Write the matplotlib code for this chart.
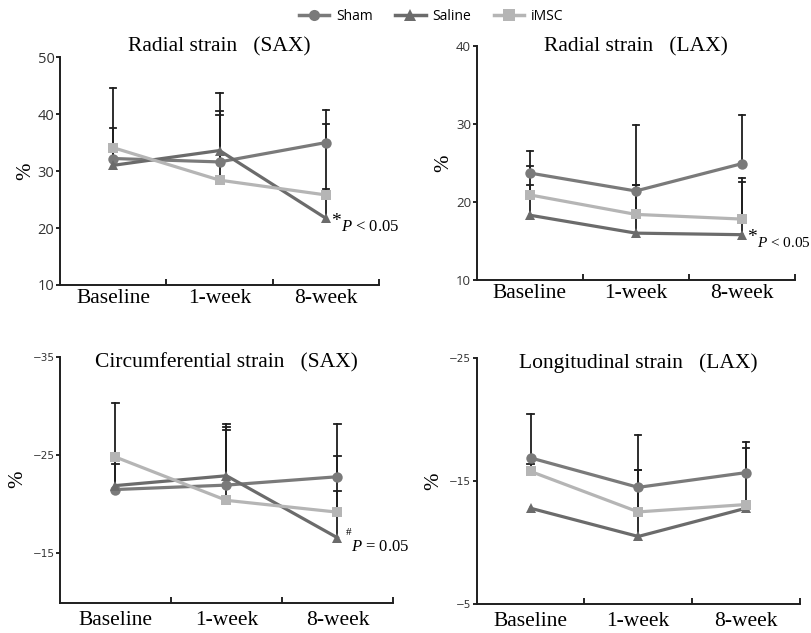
import numpy as np
import matplotlib
matplotlib.use('Agg')
import matplotlib.pyplot as plt
from matplotlib.lines import Line2D

plt.rcParams['mathtext.fontset'] = 'custom'
plt.rcParams['mathtext.it'] = 'Liberation Serif:italic'
plt.rcParams['mathtext.rm'] = 'Liberation Serif'

# category labels and group names
timepoints = ['Baseline', '1-week', '8-week']
groups = ['Sham', 'Saline', 'iMSC']

# radial strain SAX (mean, upper error bar end)
rsax_sham = [32.2, 31.6, 35.0]
rsax_saline = [31.0, 33.6, 21.7]
rsax_imsc = [34.1, 28.4, 25.8]
rsax_sham_top = [37.6, 40.5, 40.8]
rsax_saline_top = [44.5, 43.7, 38.3]
rsax_imsc_top = [34.1, 39.9, 26.9]

# radial strain LAX
rlax_sham = [23.7, 21.4, 24.9]
rlax_saline = [18.3, 16.0, 15.8]
rlax_imsc = [20.9, 18.4, 17.8]
rlax_sham_top = [26.5, 29.8, 31.1]
rlax_saline_top = [22.2, 22.2, 23.0]
rlax_imsc_top = [24.6, 22.2, 22.6]

# circumferential strain SAX
csax_sham = [-21.5, -21.95, -22.8]
csax_saline = [-21.9, -22.9, -16.6]
csax_imsc = [-24.8, -20.4, -19.2]
csax_sham_top = [-24.05, -27.9, -28.2]
csax_saline_top = [-30.3, -28.2, -21.3]
csax_imsc_top = [-24.8, -27.5, -24.9]

# longitudinal strain LAX
llax_sham = [-16.9, -14.5, -15.7]
llax_saline = [-12.8, -10.5, -12.8]
llax_imsc = [-15.8, -12.5, -13.1]
llax_sham_top = [-20.5, -18.8, -18.2]
llax_saline_top = [-12.8, -15.9, -12.8]
llax_imsc_top = [-16.4, -15.9, -17.7]

colors = {'Sham': '#7a7a7a', 'Saline': '#6b6b6b', 'iMSC': '#b5b5b5'}
markers = {'Sham': 'o', 'Saline': '^', 'iMSC': 's'}
serif = 'Liberation Serif'
sans = 'Open Sans'

fig = plt.figure(figsize=(8.12, 6.33), dpi=100)

panels = [
    dict(rect=[0.0739, 0.5498, 0.393, 0.360], title='Radial strain   (SAX)', ty=1.044,
         means=[rsax_sham, rsax_saline, rsax_imsc],
         tops=[rsax_sham_top, rsax_saline_top, rsax_imsc_top],
         ylim=(10, 50), yticks=[10, 20, 30, 40, 50], tfs=10.5, tsans=True,
         note=('*', r'$P$ < 0.05', 'star', 12)),
    dict(rect=[0.587, 0.5577, 0.392, 0.370], title='Radial strain   (LAX)', ty=0.994,
         means=[rlax_sham, rlax_saline, rlax_imsc],
         tops=[rlax_sham_top, rlax_saline_top, rlax_imsc_top],
         ylim=(10, 40), yticks=[10, 20, 30, 40], tfs=9.5, tsans=True,
         note=('*', r'$P$ < 0.05', 'star', 11)),
    dict(rect=[0.0739, 0.0479, 0.410, 0.3886], title='Circumferential strain   (SAX)', ty=0.974,
         means=[csax_sham, csax_saline, csax_imsc],
         tops=[csax_sham_top, csax_saline_top, csax_imsc_top],
         ylim=(-10, -35), yticks=[-35, -25, -15], tfs=7.5, tsans=False,
         note=('#', r'$P$ = 0.05', 'hash', 12)),
    dict(rect=[0.587, 0.0458, 0.398, 0.388], title='Longitudinal strain   (LAX)', ty=0.981,
         means=[llax_sham, llax_saline, llax_imsc],
         tops=[llax_sham_top, llax_saline_top, llax_imsc_top],
         ylim=(-5, -25), yticks=[-25, -15, -5], tfs=7.5, tsans=False,
         note=None),
]

x = np.arange(len(timepoints)) + 0.5

for p in panels:
    ax = fig.add_axes(p['rect'])
    # error bars (upper only), drawn first
    for g, m, t in zip(groups, p['means'], p['tops']):
        for xi, mi, ti in zip(x, m, t):
            if ti != mi:
                ax.plot([xi, xi], [mi, ti], color='#1e1e1e', lw=1.3, zorder=1)
                ax.plot([xi - 0.03, xi + 0.03], [ti, ti], color='#1e1e1e', lw=1.3, zorder=1)
    for g, m in zip(groups, p['means']):
        ax.plot(x, m, color=colors[g], marker=markers[g], ms=7.5, lw=2.3,
                markeredgewidth=0, zorder=3)
    ax.set_xlim(0, 3)
    ax.set_ylim(*p['ylim'])
    ax.set_yticks(p['yticks'])
    ax.set_yticklabels([str(v).replace('-', '\u2212') for v in p['yticks']],
                       fontfamily=sans if p['tsans'] else 'DejaVu Sans', fontsize=p['tfs'],
                       color='#333333')
    ax.set_xticks([1, 2, 3])
    ax.set_xticklabels([])
    ax.set_xticks(x, minor=True)
    ax.set_xticklabels(timepoints, minor=True, fontfamily=serif, fontsize=15.5)
    ax.tick_params(axis='x', which='major', direction='in', length=4, width=1.2)
    ax.tick_params(axis='x', which='minor', length=0, pad=3 if p['tsans'] else 6)
    ax.tick_params(axis='y', direction='out', length=3, width=1.2, pad=1)
    for s in ['top', 'right']:
        ax.spines[s].set_visible(False)
    for s in ['left', 'bottom']:
        ax.spines[s].set_linewidth(1.4)
        ax.spines[s].set_color('#1e1e1e')
    ax.set_ylabel('%', fontfamily=serif, fontsize=15, labelpad=2 if p['tsans'] else 4)
    ax.text(0.5, p['ty'], p['title'], transform=ax.transAxes, ha='center', va='center',
            fontfamily=serif, fontsize=15.5)
    if p['note'] is not None:
        sym, txt, kind, nfs = p['note']
        xi = x[2]
        yi = p['means'][1][2]
        if kind == 'star':
            ax.annotate(sym, (xi, yi), xytext=(4, -2), textcoords='offset points',
                        fontfamily=serif, fontsize=14, va='center', ha='left')
            ax.annotate(txt, (xi, yi), xytext=(11, -6), textcoords='offset points',
                        fontfamily=serif, fontsize=nfs, va='center', ha='left',
                        annotation_clip=False)
        else:
            ax.annotate(sym, (xi, yi), xytext=(6, 4), textcoords='offset points',
                        fontfamily=serif, fontsize=8, va='center', ha='left')
            ax.annotate(txt, (xi, yi), xytext=(10, -7), textcoords='offset points',
                        fontfamily=serif, fontsize=nfs, va='center', ha='left')

handles = [Line2D([0], [0], color=colors[g], marker=markers[g], ms=8, lw=2.5,
                  markeredgewidth=0) for g in groups]
fig.legend(handles, groups, loc='upper center', bbox_to_anchor=(0.531, 1.005), ncol=3,
           frameon=False, prop={'family': sans, 'size': 10}, handlelength=2.2,
           columnspacing=1.6, handletextpad=0.5)

fig.savefig('out.png', dpi=100)
